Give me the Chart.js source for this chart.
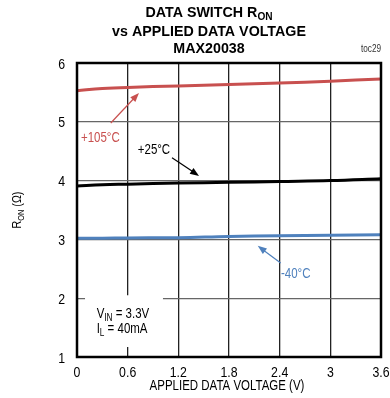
<!DOCTYPE html>
<html>
<head>
<meta charset="utf-8">
<script src="https://cdn.jsdelivr.net/npm/chart.js@4.4.0/dist/chart.umd.min.js"></script>
<style>
html, body { margin: 0; padding: 0; background: #fff; }
#wrap { width: 390px; height: 398px; }
</style>
</head>
<body>
<div id="wrap"><canvas id="ronChart" width="390" height="398"></canvas></div>
<script>
// data
var xVolts = [0, 0.3, 0.6, 1.2, 1.8, 2.4, 3.0, 3.6];
var ron105 = [5.53, 5.565, 5.585, 5.61, 5.635, 5.66, 5.69, 5.73];
var ron25 = [3.91, 3.93, 3.94, 3.96, 3.97, 3.985, 4.0, 4.03];
var ronM40 = [3.02, 3.02, 3.025, 3.03, 3.05, 3.06, 3.07, 3.08];
var xTicks = [0, 0.6, 1.2, 1.8, 2.4, 3, 3.6];
var yTicks = [1, 2, 3, 4, 5, 6];

// no narrow font installed, so squeeze Liberation Sans horizontally
var FONT = '"Liberation Sans", Arial, sans-serif';
var NARROW = 0.82;

function pts(ys) {
    return xVolts.map(function (x, i) { return {x: x, y: ys[i]}; });
}

// draws text made of normal + subscript parts, condensed
function drawParts(ctx, parts, x, y, size, weight, align, hs) {
    hs = hs || NARROW;
    var subSize = Math.round(size * 0.68);
    var total = 0;
    parts.forEach(function (p) {
        ctx.font = weight + ' ' + (p.sub ? subSize : size) + 'px ' + FONT;
        p.w = ctx.measureText(p.t).width * hs;
        total += p.w;
    });
    var cx = x;
    if (align === 'center') cx = x - total / 2;
    if (align === 'right') cx = x - total;
    ctx.textAlign = 'left';
    ctx.textBaseline = 'alphabetic';
    parts.forEach(function (p) {
        ctx.font = weight + ' ' + (p.sub ? subSize : size) + 'px ' + FONT;
        ctx.save();
        ctx.translate(cx, p.sub ? y + 3 : y);
        ctx.scale(hs, 1);
        ctx.fillText(p.t, 0, 0);
        ctx.restore();
        cx += p.w;
    });
}

function arrow(ctx, x1, y1, x2, y2, color) {
    var ang = Math.atan2(y2 - y1, x2 - x1);
    var len = 9, half = 3.5;
    ctx.strokeStyle = color;
    ctx.fillStyle = color;
    ctx.lineWidth = 1.2;
    ctx.beginPath();
    ctx.moveTo(x1, y1);
    ctx.lineTo(x2 - Math.cos(ang) * len * 0.8, y2 - Math.sin(ang) * len * 0.8);
    ctx.stroke();
    ctx.beginPath();
    ctx.moveTo(x2, y2);
    ctx.lineTo(x2 - Math.cos(ang) * len - Math.sin(ang) * half, y2 - Math.sin(ang) * len + Math.cos(ang) * half);
    ctx.lineTo(x2 - Math.cos(ang) * len + Math.sin(ang) * half, y2 - Math.sin(ang) * len - Math.cos(ang) * half);
    ctx.closePath();
    ctx.fill();
}

var decorPlugin = {
    id: 'decor',
    beforeDatasetsDraw: function (chart) {
        var ctx = chart.ctx, xs = chart.scales.x, ys = chart.scales.y;
        // white box behind the conditions note
        ctx.save();
        ctx.fillStyle = '#fff';
        var l = xs.getPixelForValue(0.095), r = xs.getPixelForValue(1.018);
        var t = ys.getPixelForValue(2.05), b = ys.getPixelForValue(1.17);
        ctx.fillRect(l, t, r - l, b - t);
        ctx.restore();
    },
    afterDraw: function (chart) {
        var ctx = chart.ctx, xs = chart.scales.x, ys = chart.scales.y, a = chart.chartArea;
        ctx.save();

        // frame
        ctx.strokeStyle = '#000';
        ctx.lineWidth = 2.5;
        ctx.strokeRect(a.left, a.top, a.right - a.left, a.bottom - a.top);

        // tick labels
        ctx.fillStyle = '#000';
        xTicks.forEach(function (v) {
            drawParts(ctx, [{t: String(v)}], xs.getPixelForValue(v), a.bottom + 20, 15, 'normal', 'center');
        });
        yTicks.forEach(function (v) {
            drawParts(ctx, [{t: String(v)}], a.left - 12, ys.getPixelForValue(v) + 5.5, 15, 'normal', 'right');
        });

        // title
        drawParts(ctx, [{t: 'DATA SWITCH R'}, {t: 'ON', sub: true}], 209, 16.7, 15.5, 'bold', 'center', 0.92);
        drawParts(ctx, [{t: 'vs APPLIED DATA VOLTAGE'}], 209, 35.5, 15.5, 'bold', 'center', 0.92);
        drawParts(ctx, [{t: 'MAX20038'}], 209, 53.3, 15.5, 'bold', 'center', 0.92);
        ctx.fillStyle = '#333';
        drawParts(ctx, [{t: 'toc29'}], 381, 52, 10, 'normal', 'right');

        // axis titles
        ctx.fillStyle = '#000';
        drawParts(ctx, [{t: 'APPLIED DATA VOLTAGE (V)'}], 227, 390, 14, 'normal', 'center');
        ctx.save();
        ctx.translate(21, 210);
        ctx.rotate(-Math.PI / 2);
        drawParts(ctx, [{t: 'R'}, {t: 'ON', sub: true}, {t: ' (\u03A9)'}], 0, 0, 13, 'normal', 'center');
        ctx.restore();

        // curve labels
        ctx.fillStyle = '#c8504f';
        drawParts(ctx, [{t: '+105\u00B0C'}], xs.getPixelForValue(0.047), ys.getPixelForValue(4.74) + 5, 14, 'normal', 'left');
        arrow(ctx, xs.getPixelForValue(0.40), ys.getPixelForValue(4.98), xs.getPixelForValue(0.734), ys.getPixelForValue(5.49), '#c8504f');

        ctx.fillStyle = '#000';
        drawParts(ctx, [{t: '+25\u00B0C'}], xs.getPixelForValue(0.72), ys.getPixelForValue(4.54) + 5, 14, 'normal', 'left');
        arrow(ctx, xs.getPixelForValue(1.125), ys.getPixelForValue(4.39), xs.getPixelForValue(1.445), ys.getPixelForValue(4.08), '#000');

        ctx.fillStyle = '#4f81bd';
        drawParts(ctx, [{t: '-40\u00B0C'}], xs.getPixelForValue(2.416), ys.getPixelForValue(2.43) + 5, 14, 'normal', 'left');
        arrow(ctx, xs.getPixelForValue(2.412), ys.getPixelForValue(2.60), xs.getPixelForValue(2.14), ys.getPixelForValue(2.89), '#4f81bd');

        // test conditions
        ctx.fillStyle = '#000';
        drawParts(ctx, [{t: 'V'}, {t: 'IN', sub: true}, {t: ' = 3.3V'}], xs.getPixelForValue(0.233), ys.getPixelForValue(1.75) + 5, 14, 'normal', 'left');
        drawParts(ctx, [{t: 'I'}, {t: 'L', sub: true}, {t: ' = 40mA'}], xs.getPixelForValue(0.233), ys.getPixelForValue(1.49) + 5, 14, 'normal', 'left');

        ctx.restore();
    }
};

var ctx = document.getElementById('ronChart').getContext('2d');
new Chart(ctx, {
    type: 'line',
    data: {
        datasets: [
            {label: '+105°C', data: pts(ron105), borderColor: '#c8504f', borderWidth: 3, pointRadius: 0, tension: 0.4},
            {label: '+25°C', data: pts(ron25), borderColor: '#000', borderWidth: 3, pointRadius: 0, tension: 0.4},
            {label: '-40°C', data: pts(ronM40), borderColor: '#4f81bd', borderWidth: 3, pointRadius: 0, tension: 0.4}
        ]
    },
    options: {
        responsive: false,
        animation: false,
        devicePixelRatio: 1,
        layout: {padding: {top: 63, left: 0, right: 0, bottom: 0}},
        plugins: {legend: {display: false}, title: {display: false}, tooltip: {enabled: false}},
        scales: {
            x: {
                type: 'linear',
                min: 0,
                max: 3.6,
                afterBuildTicks: function (scale) {
                    scale.ticks = xTicks.map(function (v) { return {value: v}; });
                },
                afterFit: function (scale) {
                    scale.height = 41;
                    scale.paddingRight = 9;
                    scale.paddingLeft = 0;
                },
                border: {display: false},
                grid: {color: '#222', lineWidth: 1.3, drawTicks: false},
                ticks: {display: false}
            },
            y: {
                min: 1,
                max: 6,
                afterBuildTicks: function (scale) {
                    scale.ticks = yTicks.map(function (v) { return {value: v}; });
                },
                afterFit: function (scale) {
                    scale.width = 77;
                    scale.paddingTop = 0;
                    scale.paddingBottom = 0;
                },
                border: {display: false},
                grid: {color: '#666', lineWidth: 1.3, drawTicks: false},
                ticks: {display: false}
            }
        }
    },
    plugins: [decorPlugin]
});
</script>
</body>
</html>
